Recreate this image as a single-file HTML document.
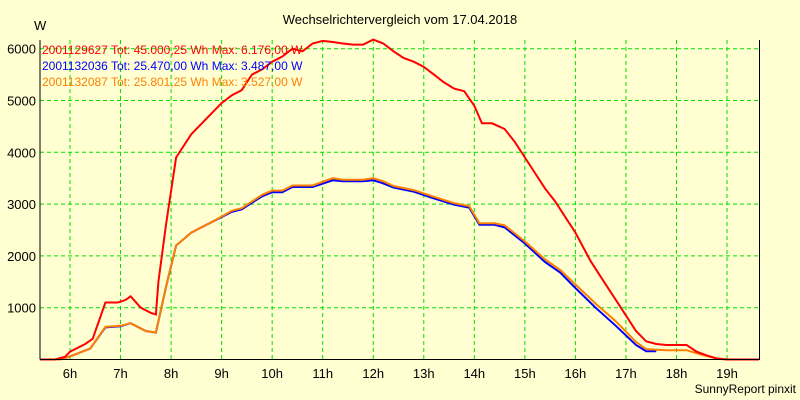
<!DOCTYPE html>
<html><head><meta charset="utf-8"><style>
body{margin:0;background:#FFFFD2;}
svg{display:block;font-family:"Liberation Sans",sans-serif;}
</style></head><body>
<svg width="800" height="400">
<rect x="0" y="0" width="800" height="400" fill="#FFFFD2"/>
<text x="400" y="24" font-size="13" text-anchor="middle">Wechselrichtervergleich vom 17.04.2018</text>
<text x="34" y="30" font-size="13">W</text>
<g id="grid"></g>
<g id="series"></g>
<line x1="40" y1="40" x2="40" y2="359.5" stroke="#000"/>
<line x1="40" y1="359.5" x2="760" y2="359.5" stroke="#000"/>
<line x1="759.5" y1="40" x2="759.5" y2="359.5" stroke="#000"/>
<g font-size="12">
<text x="42" y="54" fill="#FF0000">2001129627 Tot: 45.000,25 Wh Max: 6.176,00 W</text>
<text x="42" y="70" fill="#0000FF">2001132036 Tot: 25.470,00 Wh Max: 3.487,00 W</text>
<text x="42" y="86" fill="#FF8000">2001132087 Tot: 25.801,25 Wh Max: 3.527,00 W</text>
</g>
<text x="796" y="393" font-size="12" text-anchor="end">SunnyReport pinxit</text>
<g id="labels"></g>
</svg>
<script>
const yTicks=[1000,2000,3000,4000,5000,6000];
const xTicks=[6,7,8,9,10,11,12,13,14,15,16,17,18,19];
const redT=[5.41,5.7,5.9,6.0,6.3,6.45,6.7,6.95,7.1,7.2,7.4,7.6,7.7,7.75,7.9,8.1,8.4,8.6,9.0,9.2,9.4,9.6,9.8,10.0,10.2,10.4,10.6,10.8,11.0,11.2,11.4,11.6,11.8,12.0,12.2,12.4,12.6,12.8,13.0,13.2,13.4,13.6,13.8,14.0,14.15,14.35,14.6,14.8,15.0,15.2,15.4,15.6,15.8,16.0,16.3,16.6,16.9,17.2,17.4,17.6,17.8,18.0,18.2,18.4,18.6,18.8,19.0,19.63];
const redV=[0,0,50,150,300,400,1100,1100,1150,1220,1000,900,870,1500,2600,3900,4350,4550,4950,5100,5200,5500,5600,5750,5850,6000,5950,6100,6150,6130,6100,6080,6080,6176,6100,5950,5820,5750,5650,5500,5350,5230,5180,4900,4560,4560,4450,4200,3900,3600,3300,3050,2750,2450,1900,1450,1000,550,350,300,280,280,280,150,80,20,0,0];
const blueT=[5.41,5.8,6.0,6.4,6.7,7.0,7.2,7.5,7.7,7.9,8.1,8.4,8.8,9.2,9.4,9.8,10.0,10.2,10.4,10.8,11.2,11.4,11.8,12.0,12.2,12.4,12.8,13.2,13.6,13.9,14.1,14.4,14.6,15.0,15.4,15.7,16.0,16.4,16.8,17.2,17.4,17.6];
const blueV=[0,0,60,210,620,640,700,550,520,1400,2200,2450,2650,2850,2900,3150,3230,3230,3330,3330,3460,3440,3440,3460,3400,3320,3240,3110,2990,2930,2600,2600,2550,2240,1880,1680,1380,1000,650,280,160,160];
const orangeT=[5.41,5.8,6.0,6.4,6.7,7.0,7.2,7.5,7.7,7.9,8.1,8.4,8.8,9.2,9.4,9.8,10.0,10.2,10.4,10.8,11.2,11.4,11.8,12.0,12.2,12.4,12.8,13.2,13.6,13.9,14.1,14.4,14.6,15.0,15.4,15.7,16.0,16.4,16.8,17.2,17.4,17.8,18.2,18.5,18.8,19.0,19.5];
const orangeV=[0,0,60,210,630,650,700,550,520,1400,2200,2450,2650,2870,2920,3180,3260,3260,3360,3360,3500,3470,3470,3500,3440,3350,3270,3140,3020,2960,2630,2630,2590,2280,1930,1730,1450,1080,740,340,200,180,180,90,20,0,0];
const X=h=>70+(h-6)*50.54;
const Y=v=>359.5-v*0.0518;
const NS="http://www.w3.org/2000/svg";
const grid=document.getElementById('grid'),labels=document.getElementById('labels'),series=document.getElementById('series');
yTicks.forEach(v=>{
 const l=document.createElementNS(NS,'line');
 l.setAttribute('x1',40);l.setAttribute('x2',759);l.setAttribute('y1',Y(v));l.setAttribute('y2',Y(v));
 l.setAttribute('stroke','#00E000');l.setAttribute('stroke-dasharray','4,3');
 
 
 grid.appendChild(l);
 const t=document.createElementNS(NS,'text');
 t.setAttribute('x',36);t.setAttribute('y',Y(v)+5);t.setAttribute('text-anchor','end');t.setAttribute('font-size','13');
 t.textContent=v;
 
 
 labels.appendChild(t);
});
xTicks.forEach(h=>{
 const l=document.createElementNS(NS,'line');
 l.setAttribute('x1',X(h));l.setAttribute('x2',X(h));l.setAttribute('y1',40);l.setAttribute('y2',359);
 l.setAttribute('stroke','#00E000');l.setAttribute('stroke-dasharray','4,3');
 
 
 grid.appendChild(l);
 const t=document.createElementNS(NS,'text');
 t.setAttribute('x',X(h));t.setAttribute('y',378);t.setAttribute('text-anchor','middle');t.setAttribute('font-size','13');
 t.textContent=h+'h';
 
 
 labels.appendChild(t);
});
function draw(T,V,c,name){
 const p=document.createElementNS(NS,'polyline');
 p.setAttribute('points',T.map((t,i)=>X(t).toFixed(1)+','+Y(V[i]).toFixed(1)).join(' '));
 p.setAttribute('fill','none');p.setAttribute('stroke',c);p.setAttribute('stroke-width','2');
 
 
 series.appendChild(p);
}
draw(blueT,blueV,'#0000FF','series-blue-line');
draw(orangeT,orangeV,'#FF8000','series-orange-line');
draw(redT,redV,'#FF0000','series-red-line');
</script>
</body></html>
